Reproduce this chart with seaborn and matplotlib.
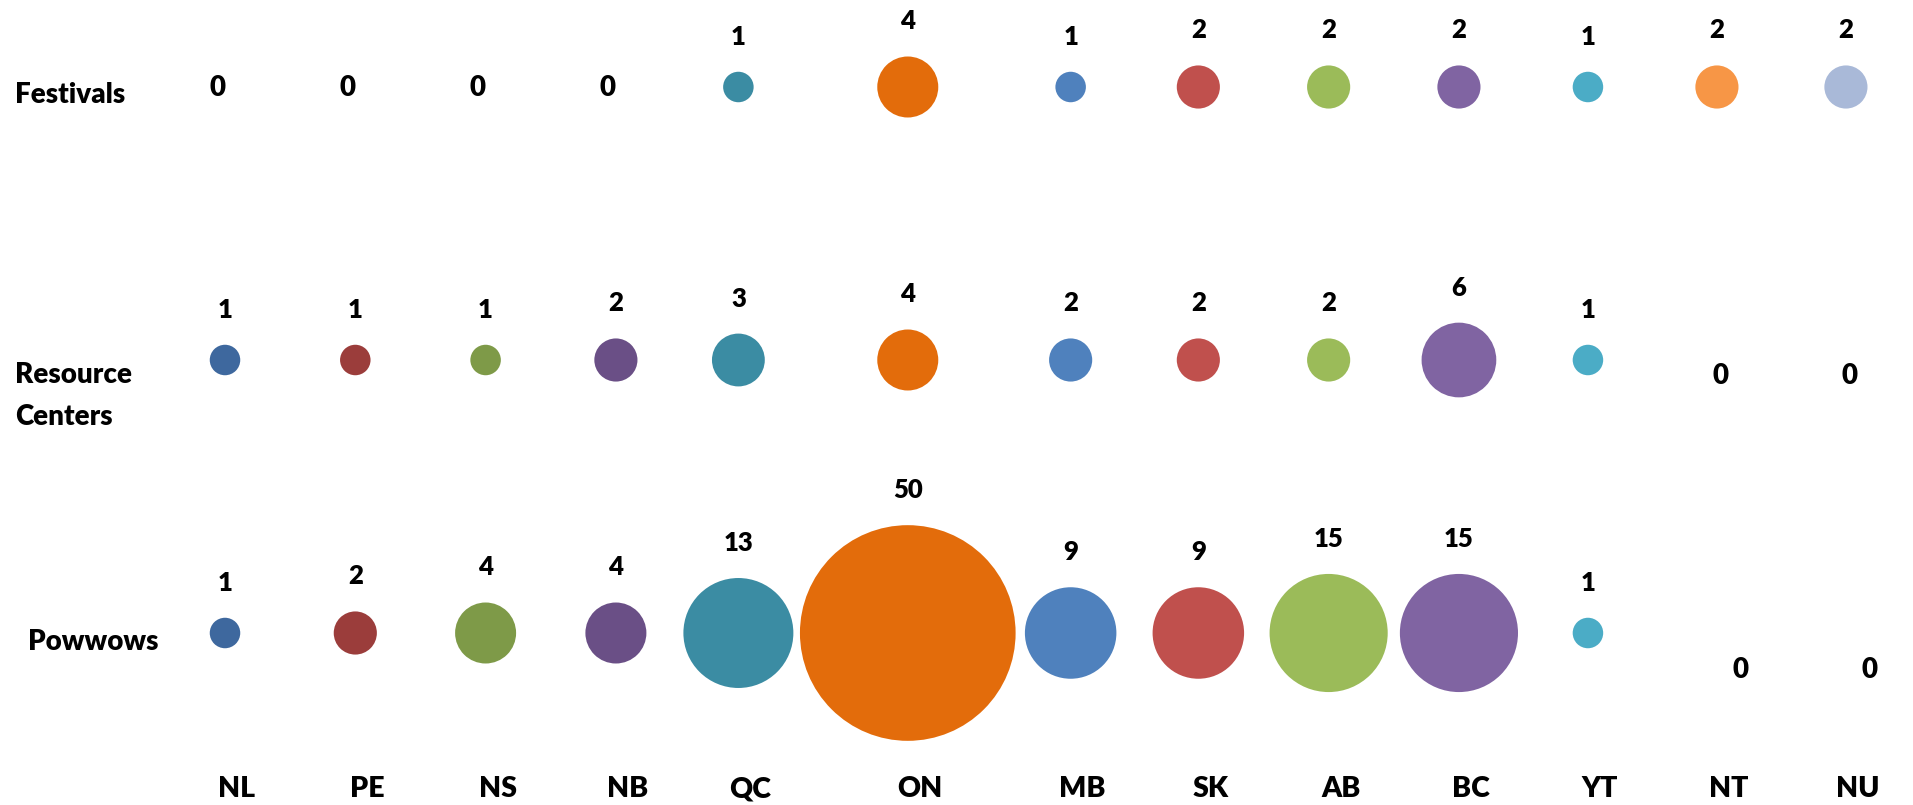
import numpy as np
import pandas as pd
import matplotlib
matplotlib.use("Agg")
import matplotlib.pyplot as plt
import seaborn as sns

# ---------------- data ----------------
provinces = ["NL", "PE", "NS", "NB", "QC", "ON", "MB", "SK", "AB", "BC", "YT", "NT", "NU"]
rows = ["Festivals", "Resource Centers", "Powwows"]
festivals = [0, 0, 0, 0, 1, 4, 1, 2, 2, 2, 1, 2, 2]
resource_centers = [1, 1, 1, 2, 3, 4, 2, 2, 2, 6, 1, 0, 0]
powwows = [1, 2, 4, 4, 13, 50, 9, 9, 15, 15, 1, 0, 0]

# bubble-chart x values used in the original chart
x_values = [1, 2, 3, 4, 4.94, 6.24, 7.49, 8.47, 9.47, 10.47, 11.46, 12.45, 13.44]

colors = ["#3E689E", "#9B3D3B", "#7E9A48", "#6A4F86", "#3B8CA3", "#E36C0B",
          "#4F81BD", "#C0504D", "#9BBB59", "#8064A2", "#4BACC6", "#F79646", "#A9B9D8"]

# ---------------- layout ----------------
W, H, DPI = 1913, 805, 100
sns.set_theme(style="white")
plt.rcParams["font.family"] = ["Lato", "DejaVu Sans"]
FW = "heavy"

fig = plt.figure(figsize=(W / DPI, H / DPI), dpi=DPI)
ax = fig.add_axes([0, 0, 1, 1])

step_x = 130.3   # px per x unit
step_y = 273.0   # px per row
x_left = 1 - 225 / step_x
y_top = 0 - 87 / step_y

records = []
for ri, vals in enumerate([festivals, resource_centers, powwows]):
    for pi, v in enumerate(vals):
        records.append(dict(row=ri, rowname=rows[ri], prov=provinces[pi],
                            x=x_values[pi], value=v))
df = pd.DataFrame(records)
df_pos = df[df["value"] > 0]

# area proportional to value: diameter ~ 30.5 px * sqrt(v)
px_pt = 72 / DPI
s_per_unit = (30.5 * px_pt) ** 2
vmax = 50
sns.scatterplot(data=df_pos, x="x", y="row", hue="prov", size="value",
                palette=dict(zip(provinces, colors)),
                sizes=(0, s_per_unit * vmax), size_norm=(0, vmax),
                linewidth=0, alpha=1, legend=False, ax=ax, zorder=3)

ax.set_xlim(x_left, x_left + W / step_x)
ax.set_ylim(y_top + H / step_y, y_top)
ax.axis("off")

# value labels
zero_dy = [2, -13, -34]   # px (positive = up) for zero labels, per row
zero_dx = [-8, 4, 24]
for _, r in df.iterrows():
    v = r["value"]
    if v > 0:
        rad_pt = np.sqrt(s_per_unit * v) / 2
        ax.annotate(f"{v}", xy=(r["x"], r["row"]), xytext=(0, rad_pt + 19.5),
                    textcoords="offset points", ha="center", va="baseline",
                    fontsize=18.5, fontweight=FW, color="black")
    else:
        ri = int(r["row"])
        ax.annotate("0", xy=(r["x"], r["row"]),
                    xytext=(zero_dx[ri], zero_dy[ri] - 10.5),
                    textcoords="offset pixels", ha="center", va="baseline",
                    fontsize=20, fontweight=FW, color="black")

# row labels
ytrans = ax.get_yaxis_transform()
row_label_lines = [["Festivals"], ["Resource", "Centers"], ["Powwows"]]
row_label_x = [15, 15, 28]
row_label_base = [[-16], [-23, -65], [-17]]
for ri, lines in enumerate(row_label_lines):
    for li, line in enumerate(lines):
        ax.annotate(line, xy=(0, ri), xycoords=ytrans,
                    xytext=(row_label_x[ri], row_label_base[ri][li]),
                    textcoords="offset pixels", ha="left", va="baseline",
                    fontsize=20, fontweight=FW, color="black")

# category labels along bottom
xtrans = ax.get_xaxis_transform()
for pi, p in enumerate(provinces):
    ax.annotate(p, xy=(x_values[pi], 0), xycoords=xtrans,
                xytext=(12, 8), textcoords="offset pixels",
                ha="center", va="baseline",
                fontsize=20.5, fontweight=FW, color="black")

fig.savefig("out.png", dpi=DPI, facecolor="white")
